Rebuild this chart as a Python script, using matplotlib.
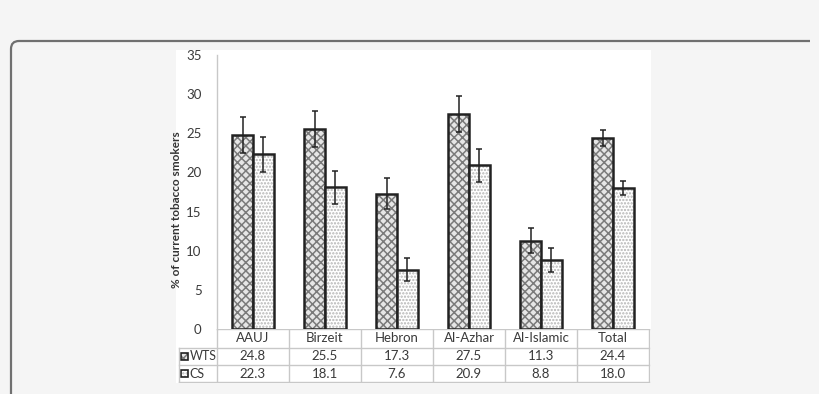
import matplotlib
matplotlib.use("Agg")
import matplotlib.pyplot as plt
from matplotlib.patches import Rectangle, PathPatch
from matplotlib.path import Path
import numpy as np

plt.rcParams['font.family'] = ['Lato', 'DejaVu Sans']
plt.rcParams['hatch.linewidth'] = 1.1

categories = ["AAUJ", "Birzeit", "Hebron", "Al-Azhar", "Al-Islamic", "Total"]
wts = [24.8, 25.5, 17.3, 27.5, 11.3, 24.4]
cs = [22.3, 18.1, 7.6, 20.9, 8.8, 18.0]
wts_err = [2.3, 2.3, 2.0, 2.3, 1.6, 1.0]
cs_err = [2.2, 2.1, 1.5, 2.1, 1.5, 0.9]
series_names = ["WTS", "CS"]
y_ticks = [0, 5, 10, 15, 20, 25, 30, 35]

W, H = 820, 394
fig = plt.figure(figsize=(W / 100, H / 100), dpi=100)
fig.patch.set_facecolor('#f5f5f5')

def fx(px):
    return px / W

def fy(py):
    return 1 - py / H

# background axes covering the whole figure (pixel coordinates)
bax = fig.add_axes([0, 0, 1, 1], zorder=-10)
bax.set_xlim(0, W)
bax.set_ylim(H, 0)
bax.axis('off')
frame_path = Path([(11, 400), (11, 49), (11, 41), (19, 41), (810, 41)],
                  [Path.MOVETO, Path.LINETO, Path.CURVE3, Path.CURVE3, Path.LINETO])
bax.add_patch(PathPatch(frame_path, facecolor='none', edgecolor='#707070', linewidth=1.6))
bax.add_patch(Rectangle((176, 50), 475, 333, facecolor='white', edgecolor='none'))

left, right, top, bottom = 217, 649, 55, 329
ax = fig.add_axes([fx(left), fy(bottom), fx(right) - fx(left), fy(top) - fy(bottom)], zorder=1)
ax.set_facecolor('none')
n = len(categories)
x = np.arange(n)
bw = 0.29
wts_hatch, wts_hc = 'xxxx', '#7a7a7a'
cs_hatch, cs_hc = '.....', '#b4b4b4'

ax.bar(x - bw / 2, wts, bw, color='#e6e6e6', edgecolor=wts_hc, hatch=wts_hatch, linewidth=0)
ax.bar(x - bw / 2, wts, bw, color='none', edgecolor='#222222', linewidth=1.8)
ax.bar(x + bw / 2, cs, bw, color='white', edgecolor=cs_hc, hatch=cs_hatch, linewidth=0)
ax.bar(x + bw / 2, cs, bw, color='none', edgecolor='#222222', linewidth=1.8)
ax.errorbar(x - bw / 2, wts, yerr=wts_err, fmt='none', ecolor='#222222', elinewidth=1.1, capsize=2, capthick=1.1)
ax.errorbar(x + bw / 2, cs, yerr=cs_err, fmt='none', ecolor='#222222', elinewidth=1.1, capsize=2, capthick=1.1)

ax.set_xlim(-0.5, n - 0.5)
ax.set_ylim(0, 35)
ax.set_yticks(y_ticks)
ax.tick_params(axis='y', length=0, labelsize=9.5, colors='#3a3a3a', pad=11)
ax.set_xticks([])
for s in ['top', 'right', 'bottom']:
    ax.spines[s].set_visible(False)
ax.spines['left'].set_color('#c8c8c8')
ax.spines['left'].set_linewidth(1)
ax.set_ylabel("% of current tobacco smokers", fontsize=8.5, fontweight='bold', color='#333333')
ax.yaxis.set_label_coords((182 - left) / (right - left), (bottom - 210) / (bottom - top))

# table
tax = fig.add_axes([fx(176), fy(383), fx(651) - fx(176), fy(329) - fy(383)], zorder=2)
tax.set_xlim(176, 651)
tax.set_ylim(383, 329)
tax.axis('off')
col_w = (right - left) / n
row_y = [329, 348, 365, 382]
lc = '#c8c8c8'
tax.plot([left, right], [row_y[0], row_y[0]], color=lc, lw=1)
for yy in row_y[1:]:
    tax.plot([179, right], [yy, yy], color=lc, lw=1)
tax.plot([179, 179], [row_y[1], row_y[3]], color=lc, lw=1)
for i in range(n + 1):
    xx = left + i * col_w
    tax.plot([xx, xx], [row_y[0], row_y[3]], color=lc, lw=1)
fs = 9.5
for i, c in enumerate(categories):
    cx = left + (i + 0.5) * col_w
    tax.text(cx, (row_y[0] + row_y[1]) / 2, c, ha='center', va='center', fontsize=fs, color='#3a3a3a')
    tax.text(cx, (row_y[1] + row_y[2]) / 2, f"{wts[i]:.1f}", ha='center', va='center', fontsize=fs, color='#3a3a3a')
    tax.text(cx, (row_y[2] + row_y[3]) / 2, f"{cs[i]:.1f}", ha='center', va='center', fontsize=fs, color='#3a3a3a')
for r, (name, hatch, hc, fc) in enumerate(zip(series_names, [wts_hatch, cs_hatch], [wts_hc, cs_hc], ['#e6e6e6', 'white'])):
    yc = (row_y[r + 1] + row_y[r + 2]) / 2
    tax.add_patch(Rectangle((181, yc - 3.5), 7, 7, facecolor=fc, edgecolor=hc, hatch=hatch, lw=0))
    tax.add_patch(Rectangle((181, yc - 3.5), 7, 7, facecolor='none', edgecolor='#222222', lw=1.2))
    tax.text(189.5, yc, name, ha='left', va='center', fontsize=9, color='#3a3a3a')

fig.savefig("out.png", dpi=100, facecolor=fig.get_facecolor())
